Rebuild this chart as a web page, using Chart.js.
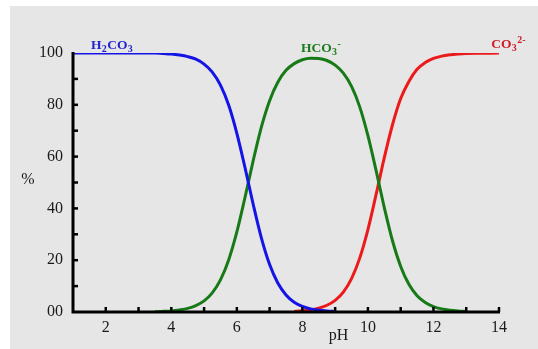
<!DOCTYPE html>
<html>
<head>
<meta charset="utf-8">
<script src="https://cdn.jsdelivr.net/npm/chart.js@4/dist/chart.umd.min.js"></script>
<style>
  html, body { margin: 0; padding: 0; background: #ffffff; }
  #wrap { width: 538px; height: 349px; position: relative; }
</style>
</head>
<body>
<div id="wrap"><canvas id="c" width="538" height="349"></canvas></div>
<script>
// pH values (x axis)
const pH = [1, 1.5, 2, 2.5, 3, 3.5, 3.75, 4, 4.25, 4.5, 4.75, 5, 5.25, 5.5, 5.75, 6, 6.25, 6.5, 6.75, 7, 7.25, 7.5, 7.75, 8, 8.25, 8.5, 8.75, 9, 9.25, 9.5, 9.75, 10, 10.25, 10.5, 10.75, 11, 11.25, 11.5, 11.75, 12, 12.25, 12.5, 12.75, 13, 13.5, 14];
// % H2CO3 (blue)
const h2co3 = [100, 100, 100, 100, 100, 100, 99.8, 99.6, 99.2, 98.6, 97.6, 95.7, 92.6, 87.6, 79.9, 69.0, 55.7, 41.5, 28.5, 18.3, 11.2, 6.6, 3.8, 2.2, 1.2, 0.7, 0.4, 0.2,
  null, null, null, null, null, null, null, null, null, null, null, null, null, null, null, null, null, null];
// % HCO3- (green)
const hco3 = [null, null, null, null, null, 0.1, 0.25, 0.4, 0.8, 1.4, 2.5, 4.3, 7.4, 12.4, 20.1, 30.9, 44.3, 58.5, 71.5, 81.6, 88.7, 93.3, 95.9, 97.4, 98.0, 97.9, 97.1, 95.3,
  92.2, 87.1, 79.2, 68.1, 54.6, 40.3, 27.5, 17.6, 10.7, 6.3, 3.7, 2.1, 1.2, 0.7, 0.4, 0.2, null, null];
// % CO3 2- (red)
const co3 = [null, null, null, null, null, null, null, null, null, null, null, null, null, null, null, null, null, null, null, null, null, null,
  0.2, 0.5, 0.8, 1.5, 2.6, 4.5, 7.7, 12.9, 20.8, 31.8, 45.4, 59.6, 72.3, 82.4, 89.0, 93.7, 96.3, 97.9, 98.8, 99.3, 99.6, 99.8, 99.9, 100];
// axis tick labels
const xTickLabels = {2: '2', 4: '4', 6: '6', 8: '8', 10: '10', 12: '12', 14: '14'};
const yTickLabels = {0: '00', 20: '20', 40: '40', 60: '60', 80: '80', 100: '100'};

function pts(vals) {
  const out = [];
  pH.forEach((x, i) => { if (vals[i] !== null) out.push({x: x, y: vals[i]}); });
  return out;
}

const SERIF = "'Liberation Serif', 'DejaVu Serif', serif";

const decor = {
  id: 'decor',
  beforeDraw(chart) {
    const ctx = chart.ctx;
    ctx.save();
    ctx.fillStyle = '#e6e6e6';
    ctx.fillRect(10, 6, chart.width - 10, chart.height - 6);
    ctx.restore();
  },
  afterDatasetsDraw(chart) {
    const ctx = chart.ctx;
    const xs = chart.scales.x, ys = chart.scales.y;
    const a = chart.chartArea;
    ctx.save();
    ctx.strokeStyle = '#000';
    ctx.lineCap = 'butt';
    // tick marks (inside)
    ctx.lineWidth = 2.5;
    for (let v = 2; v <= 14; v++) {
      const px = xs.getPixelForValue(v);
      ctx.beginPath(); ctx.moveTo(px, a.bottom); ctx.lineTo(px, a.bottom - 5); ctx.stroke();
    }
    for (let v = 10; v <= 90; v += 10) {
      const py = ys.getPixelForValue(v);
      ctx.beginPath(); ctx.moveTo(a.left, py); ctx.lineTo(a.left + 5, py); ctx.stroke();
    }
    // axes
    ctx.lineWidth = 3;
    ctx.beginPath();
    ctx.moveTo(a.left, a.top - 1);
    ctx.lineTo(a.left, a.bottom);
    ctx.lineTo(a.right + 1, a.bottom);
    ctx.stroke();
    // axis titles
    ctx.fillStyle = '#1a1a1a';
    ctx.font = '16px ' + SERIF;
    ctx.textAlign = 'center';
    ctx.textBaseline = 'middle';
    ctx.fillText('%', 28, ys.getPixelForValue(51));
    ctx.fillText('pH', xs.getPixelForValue(9.1), 336);

    // species labels
    function chem(parts, x, y, color) {
      ctx.fillStyle = color;
      ctx.textAlign = 'left';
      ctx.textBaseline = 'alphabetic';
      let cx = x;
      parts.forEach(p => {
        if (p[1] === 0) {
          ctx.font = 'bold 13.5px ' + SERIF;
          ctx.fillText(p[0], cx, y);
        } else if (p[1] < 0) {
          ctx.font = 'bold 10px ' + SERIF;
          ctx.fillText(p[0], cx, y + 3);
        } else {
          ctx.font = 'bold 10px ' + SERIF;
          ctx.fillText(p[0], cx, y - 5);
        }
        cx += ctx.measureText(p[0]).width + (p[1] === 0 ? 0.3 : 0.5);
      });
    }
    chem([['H', 0], ['2', -1], ['CO', 0], ['3', -1]], xs.getPixelForValue(1.55), ys.getPixelForValue(101.6), '#2424d0');
    chem([['HCO', 0], ['3', -1], ['-', 1]], xs.getPixelForValue(7.96), ys.getPixelForValue(100.3), '#1f7a1f');
    chem([['CO', 0], ['3', -1], ['2-', 1]], xs.getPixelForValue(13.76), ys.getPixelForValue(102.0), '#d01c2a');
    ctx.restore();
  }
};

new Chart(document.getElementById('c'), {
  type: 'line',
  data: {
    datasets: [
      { label: 'H2CO3', data: pts(h2co3), borderColor: '#1414e6', borderWidth: 3, pointRadius: 0, cubicInterpolationMode: 'monotone', fill: false },
      { label: 'HCO3-', data: pts(hco3), borderColor: '#177a17', borderWidth: 3, pointRadius: 0, cubicInterpolationMode: 'monotone', fill: false },
      { label: 'CO3 2-', data: pts(co3), borderColor: '#ec1a1a', borderWidth: 3, pointRadius: 0, cubicInterpolationMode: 'monotone', fill: false }
    ]
  },
  options: {
    responsive: false,
    animation: false,
    events: [],
    layout: { padding: { top: 53, right: 39, left: 0, bottom: 0 } },
    plugins: { legend: { display: false }, tooltip: { enabled: false } },
    scales: {
      x: {
        type: 'linear', min: 1, max: 14,
        grid: { display: false, drawTicks: false },
        border: { display: false },
        afterFit(s) { s.height = 37; },
        ticks: {
          stepSize: 1, autoSkip: false, maxRotation: 0, padding: 6,
          color: '#1a1a1a', font: { family: SERIF, size: 16 },
          callback: v => xTickLabels[v] || ''
        }
      },
      y: {
        min: 0, max: 100,
        grid: { display: false, drawTicks: false },
        border: { display: false },
        afterFit(s) { s.width = 73; },
        ticks: {
          stepSize: 10, autoSkip: false, padding: 10,
          color: '#1a1a1a', font: { family: SERIF, size: 16 },
          callback: v => yTickLabels[v] || ''
        }
      }
    }
  },
  plugins: [decor]
});
</script>
</body>
</html>
